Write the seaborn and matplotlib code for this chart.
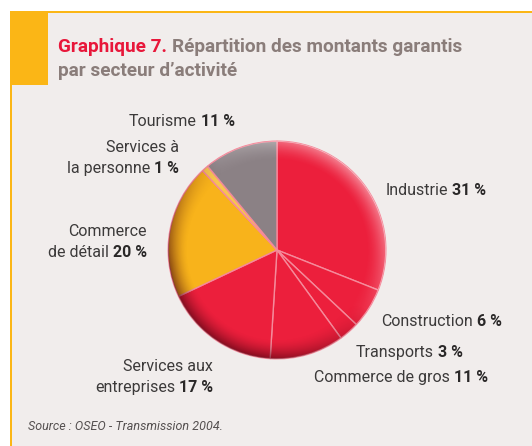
# pie chart: share of guaranteed amounts by sector (OSEO 2004)

import matplotlib.pyplot as plt
from matplotlib.patches import Rectangle, Circle
import seaborn as sns
import numpy as np

sectors = ["Industrie", "Construction", "Transports", "Commerce de gros",
           "Services aux entreprises", "Commerce de détail",
           "Services à la personne", "Tourisme"]
shares = [31, 6, 3, 11, 17, 20, 1, 11]
slice_colors = ["#ec1f3c", "#ec1f3c", "#ec1f3c", "#ec1f3c", "#ec1f3c",
                "#f8b31b", "#f6c550", "#8b8185"]

# label text split in lines, last line carries the bold value
label_lines = {
    "Industrie": ["Industrie"],
    "Construction": ["Construction"],
    "Transports": ["Transports"],
    "Commerce de gros": ["Commerce de gros"],
    "Services aux entreprises": ["Services aux", "entreprises"],
    "Commerce de détail": ["Commerce", "de détail"],
    "Services à la personne": ["Services à", "la personne"],
    "Tourisme": ["Tourisme"],
}

W, H = 532, 446
sns.set_theme(style="white")
plt.rcParams['font.family'] = ['Roboto', 'DejaVu Sans']

fig = plt.figure(figsize=(W / 100, H / 100), dpi=100)
fig.patch.set_facecolor("white")

# frame: grey box, orange borders and tab
bg = fig.add_axes([0, 0, 1, 1])
bg.set_xlim(0, W)
bg.set_ylim(H, 0)
bg.axis("off")
bg.add_patch(Rectangle((10, 12), W - 10, H - 12, color="#f1edec", lw=0))
bg.add_patch(Rectangle((10, 11), W - 10, 2.2, color="#fbb616", lw=0))
bg.add_patch(Rectangle((10, 11), 2, H - 11, color="#fbb616", lw=0))
bg.add_patch(Rectangle((10, 11), 38, 74, color="#fbb616", lw=0))

renderer = fig.canvas.get_renderer()


def put_pair(x, y, normal, bold, ha, size=11.5, c1="#3c3a3a", c2="#2a2828",
             w1="normal", w2="bold", gap=4):
    """draw normal+bold text on one baseline; x,y in pixels from top-left"""
    yy = 1 - y / H
    if ha == "right":
        tb = fig.text(x / W, yy, bold, ha="right", va="baseline", fontsize=size,
                      color=c2, fontweight=w2)
        wb = tb.get_window_extent(renderer).width
        fig.text((x - wb - gap) / W, yy, normal, ha="right", va="baseline",
                 fontsize=size, color=c1, fontweight=w1)
    else:
        tn = fig.text(x / W, yy, normal, ha="left", va="baseline", fontsize=size,
                      color=c1, fontweight=w1)
        wn = tn.get_window_extent(renderer).width
        fig.text((x + wn + gap) / W, yy, bold, ha="left", va="baseline",
                 fontsize=size, color=c2, fontweight=w2)


# title
put_pair(58, 52, "Graphique 7.", "Répartition des montants garantis", "left",
         size=13.7, c1="#e8173a", c2="#8a7d7a", w1="bold", w2="bold", gap=5)
fig.text(58 / W, 1 - 76 / H, "par secteur d\u2019activité", ha="left",
         va="baseline", fontsize=13.7, color="#8a7d7a", fontweight="bold")

# pie
cx, cy, r = 277, 250, 111
ax = fig.add_axes([(cx - r) / W, (H - cy - r) / H, 2 * r / W, 2 * r / H])
ax.pie(shares, colors=slice_colors, startangle=90, counterclock=False,
       radius=1, wedgeprops=dict(edgecolor="#f58a9b", linewidth=1.0))
ax.set_xlim(-1.02, 1.02)
ax.set_ylim(-1.02, 1.02)
ax.set_aspect("equal")
ax.axis("off")

# soft 3d rim: dark lower-left, light upper-right
g = np.linspace(-1, 1, 300)
gx, gy = np.meshgrid(g, g)
rr = np.sqrt(gx ** 2 + gy ** 2)
edge = np.clip((rr - 0.82) / 0.18, 0, 1) ** 1.6
dirv = (-gx - gy) / np.maximum(rr, 1e-6) / np.sqrt(2)
dark = np.zeros(gx.shape + (4,))
dark[..., 0:3] = [0.25, 0.0, 0.05]
dark[..., 3] = edge * np.clip(dirv + 0.2, 0, 1) * 0.6
light = np.ones(gx.shape + (4,))
light[..., 3] = edge * np.clip(-dirv, 0, 1) * 0.45
clip = Circle((0, 0), 1.0, transform=ax.transData)
for img in (dark, light):
    im = ax.imshow(img, extent=[-1, 1, -1, 1], origin="lower", zorder=3)
    im.set_clip_path(clip)

# labels: (x, baseline of last line, alignment)
label_pos = {
    "Industrie": (386, 195, "left"),
    "Construction": (502, 326, "right"),
    "Transports": (463, 357, "right"),
    "Commerce de gros": (488, 382, "right"),
    "Services aux entreprises": (213, 392, "right"),
    "Commerce de détail": (147, 257, "right"),
    "Services à la personne": (179, 173, "right"),
    "Tourisme": (235, 126, "right"),
}
line_gap = 21
for name, val in zip(sectors, shares):
    x, y, ha = label_pos[name]
    lines = label_lines[name]
    for k, ln in enumerate(lines[:-1]):
        yk = y - line_gap * (len(lines) - 1 - k)
        fig.text(x / W, 1 - yk / H, ln, ha=ha, va="baseline", fontsize=11.5,
                 color="#3c3a3a")
    put_pair(x, y, lines[-1], f"{val} %", ha)

# source
fig.text(28 / W, 1 - 430 / H, "Source : OSEO - Transmission 2004.", ha="left",
         va="baseline", fontsize=9, style="italic", color="#555050")

fig.savefig("out.png", dpi=100, facecolor="white")
